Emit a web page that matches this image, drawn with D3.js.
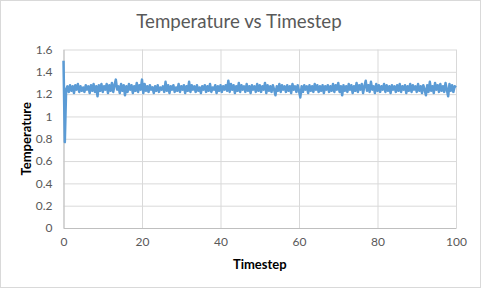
<!DOCTYPE html>
<html>
<head>
<meta charset="utf-8">
<script src="https://cdn.jsdelivr.net/npm/d3@7"></script>
<style>
  body { margin: 0; background: #fff; }
  svg { display: block; font-family: Lato, "Open Sans", sans-serif; }
</style>
</head>
<body>
<svg></svg>
<script>
const width = 482;
const height = 289;

// chart text
const chartTitle = "Temperature vs Timestep";
const xAxisLabel = "Timestep";
const yAxisLabel = "Temperature";

// tick values
const xTicks = [0, 20, 40, 60, 80, 100];
const yTicks = [0, 0.2, 0.4, 0.6, 0.8, 1, 1.2, 1.4, 1.6];

// temperature samples, evenly spaced from timestep 0 to 100
const timestepSpan = [0, 100];
const temperature = [
  1.50, 0.77, 1.24, 1.27, 1.22, 1.28, 1.23, 1.27, 1.21, 1.28,
  1.24, 1.29, 1.22, 1.27, 1.23, 1.26, 1.22, 1.28, 1.24, 1.27,
  1.21, 1.28, 1.23, 1.29, 1.22, 1.27, 1.18, 1.28, 1.23, 1.29,
  1.22, 1.27, 1.24, 1.29, 1.21, 1.28, 1.23, 1.30, 1.22, 1.28,
  1.33, 1.24, 1.27, 1.21, 1.29, 1.23, 1.28, 1.19, 1.27, 1.22,
  1.29, 1.24, 1.28, 1.21, 1.27, 1.23, 1.30, 1.22, 1.28, 1.24,
  1.33, 1.21, 1.29, 1.23, 1.27, 1.22, 1.28, 1.24, 1.26, 1.21,
  1.27, 1.23, 1.28, 1.22, 1.26, 1.24, 1.27, 1.22, 1.31, 1.23,
  1.28, 1.21, 1.27, 1.24, 1.28, 1.22, 1.26, 1.23, 1.29, 1.22,
  1.27, 1.24, 1.28, 1.21, 1.27, 1.23, 1.31, 1.22, 1.28, 1.24,
  1.27, 1.22, 1.28, 1.23, 1.26, 1.21, 1.27, 1.24, 1.28, 1.22,
  1.27, 1.23, 1.29, 1.22, 1.26, 1.24, 1.28, 1.21, 1.27, 1.23,
  1.28, 1.22, 1.27, 1.24, 1.28, 1.23, 1.32, 1.22, 1.29, 1.24,
  1.28, 1.21, 1.27, 1.23, 1.30, 1.22, 1.28, 1.24, 1.27, 1.22,
  1.29, 1.23, 1.27, 1.21, 1.28, 1.24, 1.27, 1.22, 1.29, 1.23,
  1.28, 1.22, 1.27, 1.24, 1.30, 1.21, 1.28, 1.23, 1.27, 1.22,
  1.28, 1.24, 1.19, 1.27, 1.23, 1.29, 1.22, 1.28, 1.24, 1.27,
  1.22, 1.28, 1.23, 1.27, 1.21, 1.29, 1.24, 1.27, 1.22, 1.28,
  1.23, 1.17, 1.27, 1.22, 1.28, 1.24, 1.27, 1.21, 1.28, 1.23,
  1.27, 1.22, 1.29, 1.24, 1.28, 1.22, 1.27, 1.23, 1.28, 1.21,
  1.27, 1.24, 1.28, 1.22, 1.27, 1.23, 1.29, 1.22, 1.28, 1.24,
  1.30, 1.22, 1.27, 1.19, 1.28, 1.23, 1.27, 1.22, 1.29, 1.24,
  1.28, 1.21, 1.27, 1.23, 1.30, 1.22, 1.28, 1.24, 1.29, 1.21,
  1.27, 1.32, 1.23, 1.28, 1.22, 1.31, 1.24, 1.27, 1.21, 1.29,
  1.23, 1.28, 1.22, 1.27, 1.24, 1.29, 1.22, 1.28, 1.23, 1.27,
  1.21, 1.28, 1.24, 1.27, 1.22, 1.28, 1.23, 1.29, 1.22, 1.27,
  1.24, 1.28, 1.21, 1.27, 1.23, 1.29, 1.22, 1.28, 1.24, 1.27,
  1.22, 1.29, 1.23, 1.27, 1.21, 1.28, 1.24, 1.19, 1.28, 1.22,
  1.31, 1.23, 1.27, 1.21, 1.30, 1.24, 1.28, 1.22, 1.29, 1.23,
  1.27, 1.22, 1.30, 1.24, 1.18, 1.29, 1.23, 1.28, 1.22, 1.27,
  1.26
];

const svg = d3.select("svg").attr("width", width).attr("height", height);

// chart area border
svg.append("rect")
  .attr("x", 0.5).attr("y", 0.5)
  .attr("width", width - 2).attr("height", height - 2)
  .attr("fill", "#fff")
  .attr("stroke", "#d9d9d9");

const margin = { left: 63.5, right: 26, top: 49.5, bottom: 61 };
const graphWidth = width - margin.left - margin.right;
const graphHeight = height - margin.top - margin.bottom;

const step = (timestepSpan[1] - timestepSpan[0]) / (temperature.length - 1);
const data = temperature.map((t, i) => ({ timestep: timestepSpan[0] + i * step, temperature: t }));

const xScale = d3.scaleLinear().domain([0, 100]).range([0, graphWidth]);
const yScale = d3.scaleLinear().domain([0, 1.6]).range([graphHeight, 0]);

const g = svg.append("g").attr("transform", `translate(${margin.left}, ${margin.top})`);

// gridlines
const yGrid = g.append("g")
  .call(d3.axisLeft(yScale).tickValues(yTicks).tickSize(-graphWidth).tickFormat(""));
yGrid.select(".domain").remove();
yGrid.selectAll("line").attr("stroke", "#d9d9d9");

const xGrid = g.append("g")
  .attr("transform", `translate(0, ${graphHeight})`)
  .call(d3.axisBottom(xScale).tickValues(xTicks).tickSize(-graphHeight).tickFormat(""));
xGrid.select(".domain").remove();
xGrid.selectAll("line").attr("stroke", "#d9d9d9");

// axes
const xAxisG = g.append("g")
  .attr("transform", `translate(0, ${graphHeight})`)
  .call(d3.axisBottom(xScale).tickValues(xTicks).tickSize(0).tickPadding(9));
xAxisG.select(".domain").attr("stroke", "#bfbfbf");
xAxisG.selectAll("text").attr("fill", "#595959").attr("font-size", 12).attr("font-family", "Lato");

const yAxisG = g.append("g")
  .call(d3.axisLeft(yScale).tickValues(yTicks).tickSize(0).tickPadding(11).tickFormat(d3.format("")));
yAxisG.select(".domain").attr("stroke", "#bfbfbf");
yAxisG.selectAll("text").attr("fill", "#595959").attr("font-size", 12).attr("font-family", "Lato");

// temperature line
const line = d3.line()
  .x((d) => xScale(d.timestep))
  .y((d) => yScale(d.temperature));

g.append("path")
  .attr("d", line(data))
  .attr("fill", "none")
  .attr("stroke", "#5b9bd5")
  .attr("stroke-width", 2.5)
  .attr("stroke-linejoin", "round");

// title and axis labels
svg.append("text")
  .attr("x", 239).attr("y", 28)
  .attr("text-anchor", "middle")
  .attr("fill", "#595959")
  .attr("font-size", 18.7)
  .text(chartTitle);

svg.append("text")
  .attr("x", margin.left + graphWidth / 2).attr("y", 269)
  .attr("text-anchor", "middle")
  .attr("font-weight", "bold")
  .attr("font-size", 13)
  .attr("fill", "#000")
  .text(xAxisLabel);

svg.append("text")
  .attr("transform", `translate(31, ${margin.top + graphHeight / 2}) rotate(-90)`)
  .attr("text-anchor", "middle")
  .attr("font-weight", "bold")
  .attr("font-size", 13)
  .attr("fill", "#000")
  .text(yAxisLabel);
</script>
</body>
</html>
